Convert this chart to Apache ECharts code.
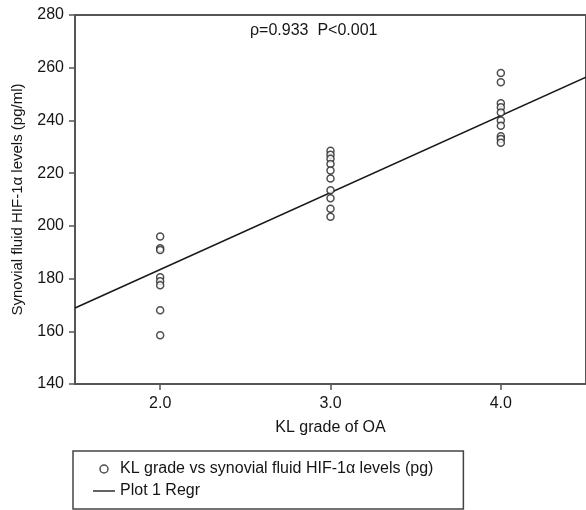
<!DOCTYPE html>
<html><head><meta charset="utf-8">
<script src="https://cdn.jsdelivr.net/npm/echarts@6/dist/echarts.min.js"></script>
<style>html,body{margin:0;padding:0;background:#fff}#c{width:586px;height:510px}</style>
</head><body><div id="c"></div>
<script>
// KL grade groups and synovial fluid HIF-1α levels (pg/ml)
const grade2 = [196, 191.5, 190.8, 180.5, 179, 177.5, 168, 158.5];
const grade3 = [228.5, 227, 225.5, 223.5, 221, 218, 213.5, 210.5, 206.5, 203.5];
const grade4 = [258, 254.5, 246.5, 245, 243, 240, 238, 234, 233, 231.5];
const regrX = [1.5, 4.5];
const regrY = [168.8, 256.4];
const xTicks = [2, 3, 4];
const yTicks = [140, 160, 180, 200, 220, 240, 260, 280];

const pts = [];
grade2.forEach(v => pts.push([2, v]));
grade3.forEach(v => pts.push([3, v]));
grade4.forEach(v => pts.push([4, v]));
const regr = regrX.map((x, i) => [x, regrY[i]]);

const font = 'Liberation Sans, Arial, sans-serif';
const txt = '#151515';
const chart = echarts.init(document.getElementById('c'), null, {renderer: 'canvas'});
chart.setOption({
  animation: false,
  backgroundColor: '#fff',
  grid: {left: 75, right: -2, top: 15, bottom: 126, show: true, borderColor: '#555', borderWidth: 2, backgroundColor: 'transparent'},
  xAxis: {
    type: 'value', min: 1.5, max: 4.5,
    name: 'KL grade of OA', nameLocation: 'middle', nameGap: 36,
    nameTextStyle: {fontFamily: font, fontSize: 16, color: txt},
    axisLine: {show: true, onZero: false, lineStyle: {color: '#555', width: 2}},
    axisTick: {show: true, customValues: xTicks, length: 6, lineStyle: {color: '#555', width: 1.5}},
    axisLabel: {customValues: xTicks, margin: 12, fontFamily: font, fontSize: 16, color: txt, formatter: v => v.toFixed(1)},
    splitLine: {show: false}
  },
  yAxis: {
    type: 'value', min: 140, max: 280, interval: 20,
    name: 'Synovial fluid HIF-1α levels (pg/ml)', nameLocation: 'middle', nameGap: 50,
    nameTextStyle: {fontFamily: font, fontSize: 15, color: txt},
    axisLine: {show: true, onZero: false, lineStyle: {color: '#555', width: 2}},
    axisTick: {show: true, customValues: yTicks, length: 6, lineStyle: {color: '#555', width: 1.5}},
    axisLabel: {customValues: yTicks, margin: 11, fontFamily: font, fontSize: 16, color: txt},
    splitLine: {show: false}
  },
  legend: {
    orient: 'vertical', left: 73, top: 451,
    borderColor: '#444', borderWidth: 1.5,
    padding: [10, 30, 10, 20], itemGap: 6, itemWidth: 22, itemHeight: 8,
    symbolKeepAspect: true,
    textStyle: {fontFamily: font, fontSize: 16, color: txt},
    data: [
      {name: 'KL grade vs synovial fluid HIF-1α levels (pg)', icon: 'circle',
       itemStyle: {color: '#fff', borderColor: '#222', borderWidth: 1.5}},
      {name: 'Plot 1 Regr', icon: 'path://M0,0 L22,0 L22,1.4 L0,1.4 Z',
       itemStyle: {color: '#222', borderWidth: 0}}
    ]
  },
  graphic: [{
    type: 'text', left: 250, top: 23,
    style: {text: 'ρ=0.933  P<0.001', font: '16px ' + font, fill: txt}
  }],
  series: [
    {
      name: 'KL grade vs synovial fluid HIF-1α levels (pg)', type: 'scatter',
      data: pts, symbol: 'circle', symbolSize: 7,
      itemStyle: {color: '#fff', borderColor: '#222', borderWidth: 1.5},
      z: 3
    },
    {
      name: 'Plot 1 Regr', type: 'line', data: regr,
      symbol: 'none', lineStyle: {color: '#1a1a1a', width: 1.6},
      itemStyle: {color: '#222'}, z: 2
    }
  ]
});
</script></body></html>
